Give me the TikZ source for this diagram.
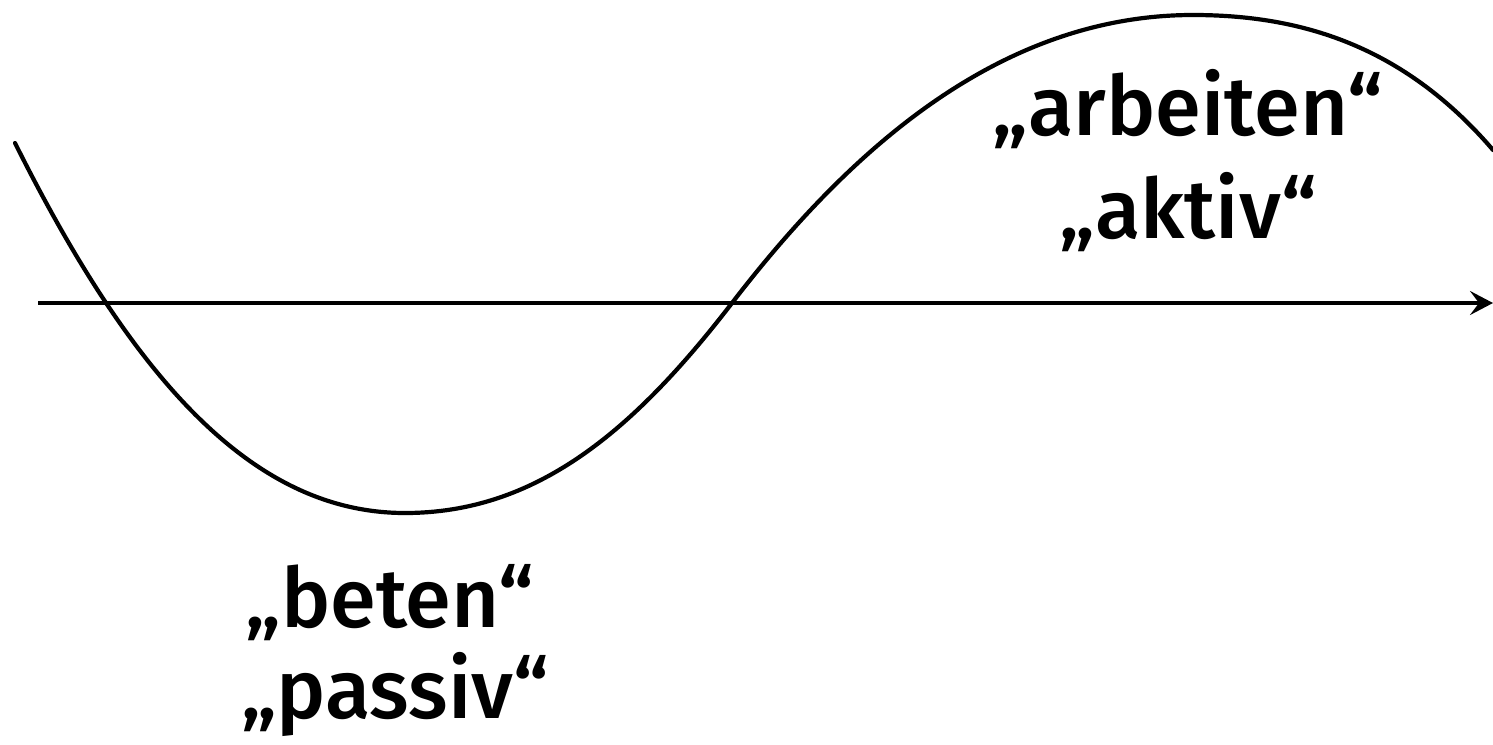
\documentclass[tikz,border=0pt]{standalone}
\usepackage{fontspec}
\setmainfont{Fira Sans Medium}
\usetikzlibrary{arrows.meta}
\tikzset{
  curveline/.style={line width=4.2pt, line cap=round},
  axisline/.style={line width=4.2pt, -{Stealth[length=23pt,width=24pt,inset=9pt]}},
  lbl/.style={anchor=base, inner sep=0pt, font=\fontsize{83}{100}\selectfont}
}
\begin{document}
\begin{tikzpicture}[x=1pt,y=-1pt]
\useasboundingbox (0,0) rectangle (1493,744);
% axis
\coordinate (axstart) at (38,303);
\coordinate (axend) at (1493,303);
\draw[axisline] (axstart) -- (axend);
% curve
\coordinate (c0) at (15,143);
\coordinate (cmin) at (405,513);
\coordinate (cx) at (732,303);
\coordinate (cmax) at (1193,15);
\coordinate (cend) at (1493,150);
\draw[curveline] (c0) .. controls (135,383) and (255,513) .. (cmin)
  .. controls (535,513) and (632,433) .. (cx)
  .. controls (842,160) and (993,15) .. (cmax)
  .. controls (1300,15) and (1403,45) .. (cend);
% labels
\node[lbl] (arbeiten) at (1188,135) {„arbeiten“};
\node[lbl] (aktiv) at (1188,238) {„aktiv“};
\node[lbl] (beten) at (390,627) {„beten“};
\node[lbl] (passiv) at (395,718) {„passiv“};
\end{tikzpicture}
\end{document}
